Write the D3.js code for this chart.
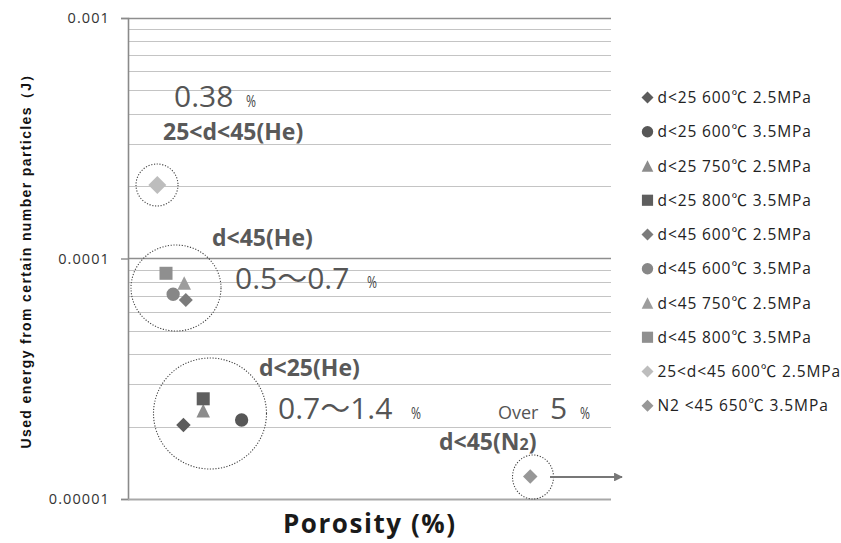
<!DOCTYPE html>
<html>
<head>
<meta charset="utf-8">
<script src="https://cdn.jsdelivr.net/npm/d3@7"></script>
<style>
  html, body { margin: 0; padding: 0; background: #fff; }
  svg { display: block; }
</style>
</head>
<body>
<svg id="chart" width="841" height="543"></svg>
<script>
// ---- data ----
const categories = [
  "d<25 600℃ 2.5MPa",
  "d<25 600℃ 3.5MPa",
  "d<25 750℃ 2.5MPa",
  "d<25 800℃ 3.5MPa",
  "d<45 600℃ 2.5MPa",
  "d<45 600℃ 3.5MPa",
  "d<45 750℃ 2.5MPa",
  "d<45 800℃ 3.5MPa",
  "25<d<45 600℃ 2.5MPa",
  "N2 <45 650℃ 3.5MPa"
];
const porosity = [0.70, 1.435, 0.95, 0.95, 0.73, 0.57, 0.71, 0.48, 0.37, 5.08];
const energy   = [2.03e-5, 2.13e-5, 2.33e-5, 2.61e-5, 6.72e-5, 7.10e-5, 7.91e-5, 8.68e-5, 2.02e-4, 1.24e-5];
const yTickValues = [1e-5, 1e-4, 1e-3];
const yTickLabels = ["0.00001", "0.0001", "0.001"];
const xDomain = [0, 6.1];
const yDomain = [1e-5, 1e-3];

// ---- styles ----
const shapes = ["diamond","circle","triangle","square","diamond","circle","triangle","square","diamond","diamond"];
const colors = ["#5c5c5c","#575757","#8c8c8c","#5e5e5e","#7b7b7b","#878787","#9d9d9d","#8f8f8f","#bdbdbd","#979797"];
const plotSizes = [14.5, 14, 14, 14, 14, 14, 14, 14, 18, 14.5];

const svg = d3.select("#chart");
const L = 128, R = 611, T = 18, B = 499;
const x = d3.scaleLinear().domain(xDomain).range([L, R]);
const y = d3.scaleLog().domain(yDomain).range([B, T]);

function markerPath(shape, s) {
  const h = s / 2;
  if (shape === "diamond") return `M0,${-h}L${h},0L0,${h}L${-h},0Z`;
  if (shape === "square") { const q = h * 0.93; return `M${-q},${-q}H${q}V${q}H${-q}Z`; }
  if (shape === "triangle") { const q = h * 0.97; return `M0,${-q}L${q},${q}L${-q},${q}Z`; }
  const r = h * 0.95;
  return `M${r},0A${r},${r} 0 1,1 ${-r},0A${r},${r} 0 1,1 ${r},0Z`;
}

// ---- gridlines ----
const grid = [];
for (let e = -5; e < -3; e++) {
  for (let k = 1; k <= 9; k++) grid.push({v: k * Math.pow(10, e), major: k === 1});
}
grid.push({v: 1e-3, major: true});
svg.append("g").selectAll("line").data(grid).join("line")
  .attr("x1", L).attr("x2", R)
  .attr("y1", d => Math.round(y(d.v)) + 0.5).attr("y2", d => Math.round(y(d.v)) + 0.5)
  .attr("stroke", d => d.major ? "#8e8e8e" : "#c4c4c4")
  .attr("stroke-width", d => d.major ? 1.4 : 1.2);

// ---- y axis ----
const yAxis = d3.axisLeft(y).tickValues(yTickValues)
  .tickFormat((d, i) => yTickLabels[i]).tickSize(7).tickPadding(11);
const yg = svg.append("g").attr("transform", `translate(${L},0)`).call(yAxis);
yg.select(".domain").attr("stroke", "#8a8a8a").attr("stroke-width", 1.6);
yg.selectAll(".tick line").attr("stroke", "#8a8a8a").attr("stroke-width", 1.4);
yg.selectAll(".tick text")
  .attr("font-family", "'Open Sans', sans-serif").attr("font-size", 14.5)
  .attr("letter-spacing", 1.1).attr("fill", "#333");

// x axis baseline
svg.append("line").attr("x1", L).attr("x2", R).attr("y1", B + 0.5).attr("y2", B + 0.5)
  .attr("stroke", "#a8a8a8").attr("stroke-width", 1.4);

// ---- axis titles ----
svg.append("text").attr("x", 369).attr("y", 533).attr("text-anchor", "middle")
  .attr("font-family", "'Open Sans', sans-serif").attr("font-weight", 700).attr("font-size", 26)
  .attr("fill", "#1a1a1a").attr("textLength", 172).attr("lengthAdjust", "spacing")
  .text("Porosity (%)");
svg.append("text").attr("transform", "translate(30.5,258) rotate(-90)").attr("text-anchor", "middle")
  .attr("font-family", "'Liberation Sans', Arial, sans-serif").attr("font-weight", 700).attr("font-size", 14)
  .attr("fill", "#111").attr("textLength", 381).attr("lengthAdjust", "spacing")
  .text("Used energy from certain number particles（J）");

// ---- dotted ellipses (annotations) ----
const ellipses = [
  {cx: 157, cy: 185, rx: 21, ry: 21},
  {cx: 176, cy: 288, rx: 45, ry: 43},
  {cx: 210, cy: 413.5, rx: 56.5, ry: 55.5},
  {cx: 533, cy: 477, rx: 20.5, ry: 22}
];
svg.append("g").selectAll("ellipse").data(ellipses).join("ellipse")
  .attr("cx", d => d.cx).attr("cy", d => d.cy).attr("rx", d => d.rx).attr("ry", d => d.ry)
  .attr("fill", "none").attr("stroke", "#444").attr("stroke-width", 1.1).attr("stroke-dasharray", "1.2,1.6");

// ---- markers ----
svg.append("g").selectAll("path").data(categories).join("path")
  .attr("transform", (d, i) => `translate(${x(porosity[i])},${y(energy[i])})`)
  .attr("d", (d, i) => markerPath(shapes[i], plotSizes[i]))
  .attr("fill", (d, i) => colors[i]);

// ---- arrow ----
const defs = svg.append("defs");
defs.append("marker").attr("id", "ah").attr("viewBox", "0 0 10 10").attr("refX", 9).attr("refY", 5)
  .attr("markerWidth", 4).attr("markerHeight", 4).attr("orient", "auto")
  .append("path").attr("d", "M0,0L10,5L0,10Z").attr("fill", "#777");
svg.append("line").attr("x1", 550).attr("x2", 622).attr("y1", 477).attr("y2", 477)
  .attr("stroke", "#777").attr("stroke-width", 2.2).attr("marker-end", "url(#ah)");

// ---- annotation texts ----
const ann = svg.append("g").attr("font-family", "'Open Sans', sans-serif").attr("fill", "#555");
function big(xp, yp, parts) {
  const t = ann.append("text").attr("x", xp).attr("y", yp).attr("font-size", 30);
  parts.forEach(p => {
    const s = t.append("tspan").text(p);
    if (p === "～") s.attr("font-family", "'Noto Sans CJK JP', sans-serif");
  });
}
function pct(xp, yp) {
  ann.append("text").attr("x", xp).attr("y", yp).attr("font-size", 16).attr("fill", "#444")
    .attr("textLength", 10).attr("lengthAdjust", "spacingAndGlyphs").text("%");
}
function bold(xp, yp, t) { return ann.append("text").attr("x", xp).attr("y", yp).attr("font-size", 23).attr("font-weight", 700).attr("fill", "#595959").text(t); }

big(174, 107, ["0.38"]); pct(246, 107);
bold(163, 140, "25<d<45(He)");
bold(212, 246, "d<45(He)");
big(235, 289, ["0.5", "～", "0.7"]); pct(367, 288);
bold(259, 376, "d<25(He)");
big(278, 419, ["0.7", "～", "1.4"]); pct(411, 419);
ann.append("text").attr("x", 498).attr("y", 419).attr("font-size", 18).text("Over");
big(550, 419, ["5"]); pct(580, 419);
const n2 = bold(439, 450, "d<45(N");
n2.append("tspan").attr("font-size", 16).text("2");
n2.append("tspan").text(")");

// ---- legend ----
const lg = svg.append("g");
const rows = lg.selectAll("g").data(categories).join("g")
  .attr("transform", (d, i) => `translate(647.5,${97.5 + i * 34.25})`);
rows.append("path").attr("d", (d, i) => markerPath(shapes[i], 12)).attr("fill", (d, i) => colors[i]);
const lt = rows.append("text").attr("x", 10).attr("y", 5.5)
  .attr("font-family", "'Open Sans', sans-serif").attr("font-size", 15.5).attr("letter-spacing", 0.9)
  .attr("fill", "#222");
lt.each(function(d) {
  const t = d3.select(this);
  d.split(/(℃)/).filter(s => s.length).forEach(p => {
    const s = t.append("tspan").text(p);
    if (p === "℃") s.attr("font-family", "'Noto Sans CJK JP', sans-serif");
  });
});
</script>
</body>
</html>
